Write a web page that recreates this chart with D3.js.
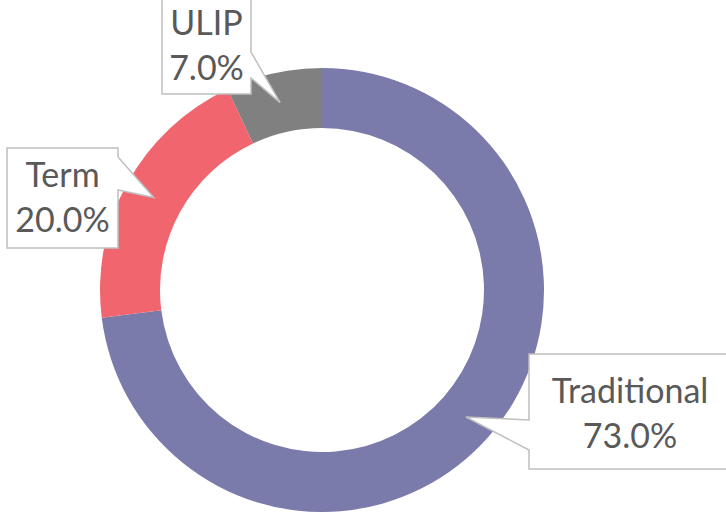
<!DOCTYPE html>
<html>
<head>
<meta charset="utf-8">
<script src="https://cdn.jsdelivr.net/npm/d3@7"></script>
<style>
  html, body { margin: 0; padding: 0; background: #fff; }
  svg { display: block; }
</style>
</head>
<body>
<svg id="chart" width="726" height="512"></svg>
<script>
// data
var categories = ["Traditional", "Term", "ULIP"];
var shares = [73.0, 20.0, 7.0];
var colors = ["#7a7aab", "#f1666e", "#808080"];

// callout boxes (layout only): box edges, which side the pointer leaves from, pointer base
var callouts = [
    { x0: 529, x1: 731, y0: 354, y1: 469, side: "left", p0: 420, p1: 450, line: 403 },
    { x0: 7, x1: 118, y0: 148, y1: 248, side: "right", p0: 157, p1: 190, line: 187 },
    { x0: 162, x1: 251, y0: -5, y1: 94, side: "right", p0: 52, p1: 78, line: 35 }
];

var svg = d3.select("#chart");
var cx = 322, cy = 290, outerR = 222, innerR = 162;

var pie = d3.pie().sort(null).value(function (d) { return d; });
var arc = d3.arc().innerRadius(innerR).outerRadius(outerR);
var arcs = pie(shares);

var g = svg.append("g").attr("transform", "translate(" + cx + "," + cy + ")");
g.selectAll("path.slice").data(arcs).enter().append("path")
    .attr("class", "slice")
    .attr("d", arc)
    .attr("fill", function (d, i) { return colors[i]; });

// callouts with pointer to the middle of the ring
var fmt = d3.format(".1f");
arcs.forEach(function (a, i) {
    var c = callouts[i];
    var tip = arc.centroid(a);
    var tx = tip[0] + cx, ty = tip[1] + cy;
    var pts;
    if (c.side === "left") {
        pts = [[c.x0, c.y0], [c.x1, c.y0], [c.x1, c.y1], [c.x0, c.y1],
               [c.x0, c.p1], [tx, ty], [c.x0, c.p0]];
    } else {
        pts = [[c.x0, c.y0], [c.x1, c.y0], [c.x1, c.p0], [tx, ty],
               [c.x1, c.p1], [c.x1, c.y1], [c.x0, c.y1]];
    }
    svg.append("path")
        .attr("d", d3.line()(pts) + "Z")
        .attr("fill", "#ffffff")
        .attr("stroke", "#bfbfbf")
        .attr("stroke-width", 1.5);
    var mid = (c.x0 + c.x1) / 2;
    var t = svg.append("text")
        .attr("text-anchor", "middle")
        .attr("font-family", "Lato, 'Open Sans', sans-serif")
        .attr("font-size", 34)
        .attr("fill", "#595959");
    t.append("tspan").attr("x", mid).attr("y", c.line).text(categories[i]);
    t.append("tspan").attr("x", mid).attr("y", c.line + 45).text(fmt(shares[i]) + "%");
});
</script>
</body>
</html>
